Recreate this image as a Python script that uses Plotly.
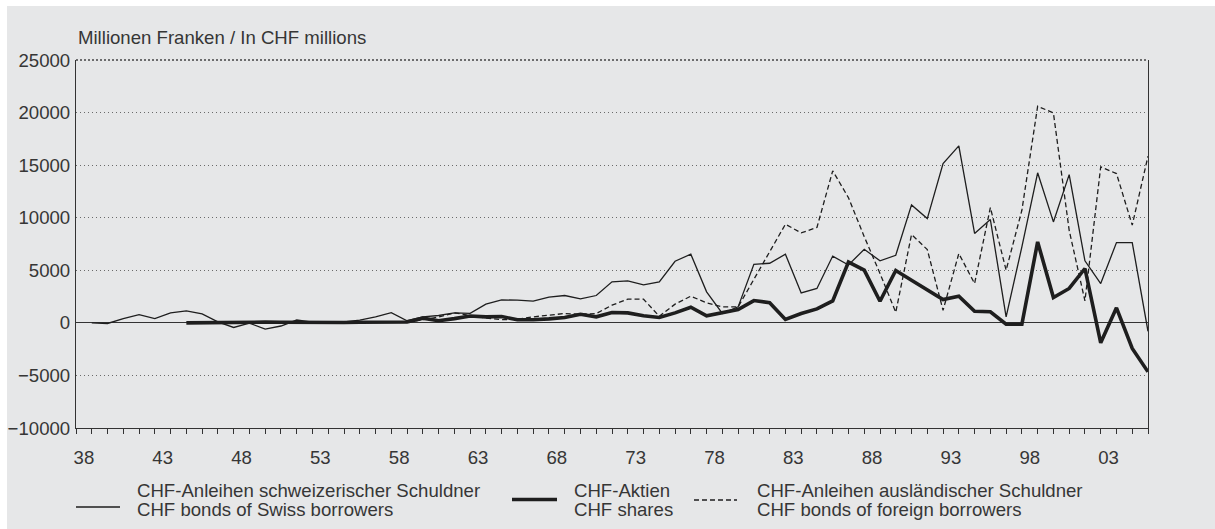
import plotly.graph_objects as go

# ---------------- data ----------------
years = list(range(1938, 2006))

swiss_bonds = [
    0, -60, 410, 790, 410, 950, 1140, 850, 100, -440,          # 1938-1947
    -20, -600, -300, 270, 60, 50, 80, 250, 570, 970,           # 1948-1957
    200, 570, 700, 950, 900, 1780, 2180, 2160, 2060, 2440,     # 1958-1967
    2600, 2280, 2600, 3900, 3990, 3610, 3900, 5860, 6530, 2950,  # 1968-1977
    890, 1520, 5570, 5670, 6530, 2850, 3270, 6350, 5500, 7000,   # 1978-1987
    5900, 6430, 11220, 9920, 15150, 16830, 8500, 9830, 570, 7230,  # 1988-1997
    14270, 9600, 14100, 5900, 3740, 7640, 7640, -800,          # 1998-2005
]

chf_shares = [
    None, None, None, None, None, None, 0, 30, 50, 70,          # 1938-1947
    80, 70, 60, 40, 30, 20, 30, 60, 90, 100,                    # 1948-1957
    80, 450, 200, 400, 650, 570, 600, 300, 290, 380,            # 1958-1967
    510, 820, 570, 980, 950, 670, 510, 950, 1490, 670,          # 1968-1977
    950, 1270, 2120, 1920, 330, 890, 1330, 2090, 5780, 5010,    # 1978-1987
    2050, 4980, 4060, 3110, 2220, 2540, 1110, 1050, -130, -130,  # 1988-1997
    7700, 2410, 3270, 5170, -1900, 1430, -2440, -4660,          # 1998-2005
]

foreign_bonds = [
    None, None, None, None, None, None, None, None, None, None,  # 1938-1947
    None, None, None, None, None, None, None, None, 50, 100,     # 1948-1957
    80, 300, 550, 950, 700, 450, 300, 350, 570, 760,             # 1958-1967
    890, 820, 890, 1680, 2250, 2250, 630, 1780, 2540, 1900,      # 1968-1977
    1520, 1520, 4100, 6800, 9380, 8560, 9070, 14460, 11900, 8200,  # 1978-1987
    4700, 1000, 8400, 6970, 1200, 6590, 3740, 10970, 5010, 10710,  # 1988-1997
    20600, 19970, 8800, 2090, 14840, 14200, 9290, 15850,         # 1998-2005
]

y_ticks = [-10000, -5000, 0, 5000, 10000, 15000, 20000, 25000]
y_labels = ["\u221210000", "\u22125000", "0", "5000", "10000", "15000", "20000", "25000"]
x_label_years = list(range(1938, 2006, 5))
x_labels = [f"{y % 100:02d}" for y in x_label_years]

title_text = "Millionen Franken / In CHF millions"
legend_items = [
    ("CHF-Anleihen schweizerischer Schuldner", "CHF bonds of Swiss borrowers"),
    ("CHF-Aktien", "CHF shares"),
    ("CHF-Anleihen ausländischer Schuldner", "CHF bonds of foreign borrowers"),
]

# ---------------- layout geometry ----------------
W, H = 1215, 529
ML, MR, MT, MB = 76, 67, 60, 101
PW = W - ML - MR
PH = H - MT - MB

def px(x):
    return (x - ML) / PW

def py(y):
    return (H - MB - y) / PH

FONT = "Liberation Sans, Arial, Helvetica, sans-serif"
TXT = "#363636"
LINE = "#1e1e1e"
BG = "#e6e7e8"
FS = 18.6

fig = go.Figure()

fig.add_trace(go.Scatter(
    x=years, y=swiss_bonds, mode="lines", name=legend_items[0][0],
    line=dict(color=LINE, width=1.3), showlegend=False))
fig.add_trace(go.Scatter(
    x=years, y=foreign_bonds, mode="lines", name=legend_items[2][0],
    line=dict(color=LINE, width=1.3, dash="5px,3px"), showlegend=False))
fig.add_trace(go.Scatter(
    x=years, y=chf_shares, mode="lines", name=legend_items[1][0],
    line=dict(color=LINE, width=3.6), showlegend=False))

# invisible trace to activate the minor-tick axis
fig.add_trace(go.Scatter(x=[1937, 2005], y=[None, None], xaxis="x2",
                         mode="lines", showlegend=False, hoverinfo="skip"))

fig.update_layout(
    width=W, height=H,
    margin=dict(l=ML, r=MR, t=MT, b=MB, pad=0, autoexpand=False),
    paper_bgcolor="white",
    plot_bgcolor="rgba(0,0,0,0)",
    font=dict(family=FONT, size=FS, color=TXT),
    xaxis=dict(
        range=[1937, 2005], tickmode="array", automargin=False,
        tickvals=[y - 0.5 for y in x_label_years], ticktext=x_labels,
        ticks="", showgrid=False, zeroline=False,
        showline=True, linecolor="#333333", linewidth=1.2,
        ticklabelstandoff=13, tickfont=dict(size=FS, color=TXT),
    ),
    xaxis2=dict(
        range=[1937, 2005], overlaying="x", anchor="y", side="bottom",
        automargin=False,
        tickmode="linear", tick0=1937, dtick=1, ticks="outside",
        ticklen=5, tickwidth=1, tickcolor="#333333",
        showticklabels=False, showgrid=False, zeroline=False, showline=False,
    ),
    yaxis=dict(
        range=[-10000, 25000], tickmode="array", tickvals=y_ticks, ticktext=y_labels,
        automargin=False,
        ticks="", showgrid=True, gridcolor="#6a6a6a", gridwidth=1, griddash="1px,3px",
        zeroline=True, zerolinecolor="#333333", zerolinewidth=1.2,
        showline=True, mirror=True, linecolor="#333333", linewidth=1.2,
        ticklabelstandoff=1, tickfont=dict(size=FS, color=TXT),
    ),
)

shapes = [
    dict(type="rect", xref="paper", yref="paper", layer="below",
         x0=px(7), x1=px(W + 5), y0=py(H + 5), y1=py(6),
         fillcolor=BG, line=dict(width=0)),
    # dotted top border
    dict(type="line", xref="paper", yref="paper", x0=0, x1=1, y0=1, y1=1,
         line=dict(color="#444444", width=1.4, dash="2px,2px")),
    # legend samples
    dict(type="line", xref="paper", yref="paper", x0=px(76), x1=px(120),
         y0=py(507), y1=py(507), line=dict(color=LINE, width=1.3)),
    dict(type="line", xref="paper", yref="paper", x0=px(512), x1=px(557),
         y0=py(499.5), y1=py(499.5), line=dict(color=LINE, width=3.4)),
    dict(type="line", xref="paper", yref="paper", x0=px(694), x1=px(737),
         y0=py(500), y1=py(500), line=dict(color=LINE, width=1.3, dash="5px,3px")),
]
fig.update_layout(shapes=shapes)

annotations = [
    dict(text=title_text, xref="paper", yref="paper", x=px(76), y=py(37),
         xanchor="left", yanchor="middle", showarrow=False,
         font=dict(size=FS, color=TXT)),
]
legend_x = [135, 572, 755]
for (l1, l2), lx in zip(legend_items, legend_x):
    annotations.append(dict(text=l1, xref="paper", yref="paper", x=px(lx), y=py(490.5),
                            xanchor="left", yanchor="middle", showarrow=False,
                            font=dict(size=FS, color=TXT)))
    annotations.append(dict(text=l2, xref="paper", yref="paper", x=px(lx), y=py(509),
                            xanchor="left", yanchor="middle", showarrow=False,
                            font=dict(size=FS, color=TXT)))
fig.update_layout(annotations=annotations)

fig.write_html("out.html", config={"displayModeBar": False},
               post_script="document.body.style.margin='0';")
